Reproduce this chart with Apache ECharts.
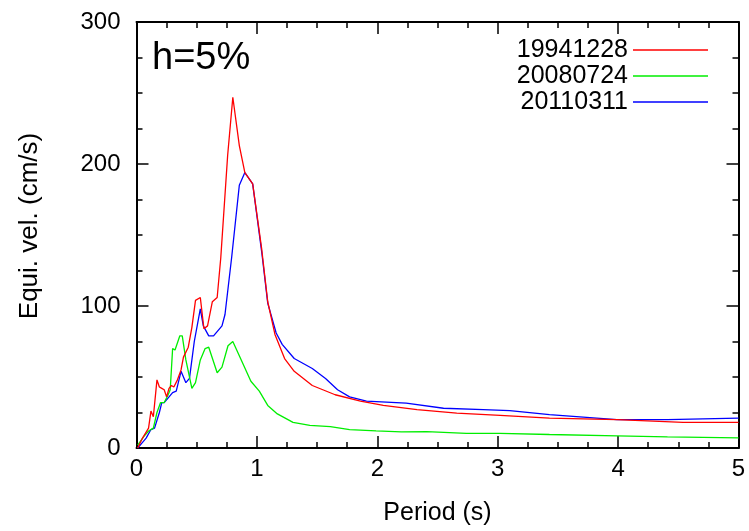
<!DOCTYPE html>
<html>
<head>
<meta charset="utf-8">
<script src="https://cdn.jsdelivr.net/npm/echarts@6/dist/echarts.min.js"></script>
<style>html,body{margin:0;padding:0;background:#fff;}#chart{width:749px;height:531px;}</style>
</head>
<body>
<div id="chart"></div>
<script>
const seriesNames = ['19941228', '20080724', '20110311'];
const seriesColors = ['#ff0000', '#00ee00', '#0000ff'];

const periodRed = [0.01,0.05,0.1,0.12,0.14,0.17,0.19,0.21,0.23,0.25,0.27,0.29,0.31,0.34,0.37,0.39,0.43,0.46,0.49,0.53,0.56,0.59,0.63,0.67,0.70,0.757,0.80,0.854,0.90,0.965,1.04,1.09,1.15,1.23,1.31,1.46,1.65,1.86,2.05,2.33,2.66,3.02,3.43,3.99,4.54,5];
const velRed = [0,7,14,26,22,48,43,42,41,36,42,44,43,48,55,64,71,85,104,106,84,86,103,106,134,206,247,213,194,186,140,103,80,63,54,44,37.5,33,30,27,24.6,23,21,20,18,18];

const periodGreen = [0.01,0.06,0.1,0.14,0.17,0.2,0.23,0.26,0.28,0.30,0.32,0.36,0.38,0.41,0.46,0.49,0.53,0.57,0.60,0.67,0.71,0.76,0.80,0.87,0.95,1.02,1.09,1.17,1.3,1.44,1.61,1.77,1.99,2.2,2.41,2.74,3.02,3.43,3.99,4.41,5];
const velGreen = [2,8,12,14,25,32,32,37,41,70,69,79,79,62,42,46,62,70,71,53,57,72,75,62,47,40,30,24,18,16,15,13,12,11.4,11.6,10.3,10.3,9.5,8.6,7.9,7.2];

const periodBlue = [0.01,0.05,0.08,0.12,0.15,0.19,0.21,0.23,0.26,0.30,0.33,0.37,0.41,0.44,0.48,0.53,0.555,0.60,0.64,0.71,0.735,0.79,0.854,0.90,0.965,1.04,1.09,1.16,1.21,1.31,1.46,1.57,1.67,1.77,1.91,2.24,2.55,2.88,3.1,3.43,3.71,3.99,4.41,5];
const velBlue = [0,4,7,13,14,25,32,32,35,39,40,54,46,49,75,98,86,79,79,86,94,134,185,194,186,138,102,81,73,63,56,49,41,36,33,31.6,28,27,26.3,23.5,21.8,20,20,21];

const xTicks = [0, 1, 2, 3, 4, 5];
const yTicks = [0, 100, 200, 300];

const FONT = '"Liberation Sans", Arial, Helvetica, sans-serif';
const zip = (a, b) => a.map((v, i) => [v, b[i]]);
const allPeriods = [periodRed, periodGreen, periodBlue];
const allVels = [velRed, velGreen, velBlue];

function axisCommon(isX, isMain) {
  const ticks = isX ? xTicks : yTicks;
  return {
    type: 'value',
    min: ticks[0],
    max: ticks[ticks.length - 1],
    interval: ticks[1] - ticks[0],
    axisLine: { show: true, onZero: false, lineStyle: { color: '#000', width: 2 } },
    axisTick: { show: true, inside: true, length: 12, lineStyle: { color: '#000', width: 1.5 } },
    minorTick: { show: true, splitNumber: 4, length: 6, lineStyle: { color: '#000', width: 1.5 } },
    splitLine: { show: false },
    axisLabel: {
      show: isMain,
      color: '#000',
      fontSize: 24,
      fontFamily: FONT,
      margin: isX ? 9 : 16
    }
  };
}

const chart = echarts.init(document.getElementById('chart'), null, { renderer: 'canvas' });
const option = {
  backgroundColor: '#fff',
  animation: false,
  grid: { left: 136.5, right: 10.5, top: 22, bottom: 79, containLabel: false },
  xAxis: [
    Object.assign(axisCommon(true, true), {
      position: 'bottom',
      name: 'Period (s)', nameLocation: 'middle', nameGap: 53,
      nameTextStyle: { color: '#000', fontSize: 25, fontFamily: FONT }
    }),
    Object.assign(axisCommon(true, false), { position: 'top' })
  ],
  yAxis: [
    Object.assign(axisCommon(false, true), {
      position: 'left',
      name: 'Equi. vel. (cm/s)', nameLocation: 'middle', nameGap: 94,
      nameTextStyle: { color: '#000', fontSize: 26, fontFamily: FONT, padding: [0, 0, 0, 18] }
    }),
    Object.assign(axisCommon(false, false), { position: 'right' })
  ],
  legend: {
    orient: 'vertical',
    right: 36,
    top: 32,
    align: 'right',
    icon: 'rect',
    itemWidth: 75,
    itemHeight: 1.5,
    itemGap: 0,
    textStyle: { color: '#000', fontSize: 25, fontFamily: FONT, lineHeight: 26 },
    data: seriesNames
  },
  graphic: [{
    type: 'text',
    x: 152,
    y: 59,
    style: { text: 'h=5%', fill: '#000', font: '38px ' + FONT, textVerticalAlign: 'middle' }
  }],
  series: seriesNames.map((name, i) => ({
    name: name,
    type: 'line',
    xAxisIndex: 0,
    yAxisIndex: 0,
    data: zip(allPeriods[i], allVels[i]),
    symbol: 'none',
    lineStyle: { color: seriesColors[i], width: 1.3 },
    itemStyle: { color: seriesColors[i] },
    z: 3 - i
  }))
};
chart.setOption(option);
</script>
</body>
</html>
